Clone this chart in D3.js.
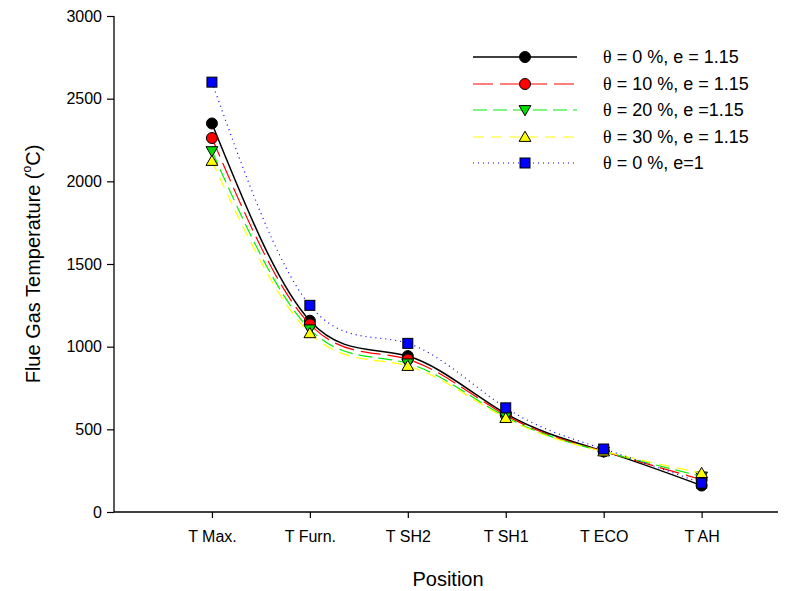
<!DOCTYPE html>
<html>
<head>
<meta charset="utf-8">
<script src="https://cdn.jsdelivr.net/npm/d3@7"></script>
<style>
  body { margin: 0; background: #fff; }
  text { font-family: Arial, "Liberation Sans", sans-serif; }
</style>
</head>
<body>
<svg id="chart" width="788" height="591"></svg>
<script>
// DATA
var positions = ["T Max.", "T Furn.", "T SH2", "T SH1", "T ECO", "T AH"];
var yTicks = [0, 500, 1000, 1500, 2000, 2500, 3000];

var theta0_e115  = [2350, 1157, 943, 595, 368, 160];
var theta10_e115 = [2262, 1135, 923, 585, 366, 195];
var theta20_e115 = [2183, 1105, 899, 575, 365, 215];
var theta30_e115 = [2123, 1081, 883, 568, 366, 235];
var theta0_e1    = [2600, 1250, 1020, 630, 381, 175];

// legend labels, split after the theta sign
var seriesNames = [" = 0 %, e = 1.15", " = 10 %, e = 1.15", " = 20 %, e =1.15", " = 30 %, e = 1.15", " = 0 %, e=1"];

// STYLES
var series = [
  {name: seriesNames[0], values: theta0_e115,  stroke: "#000000", fill: "#000000", dash: null,    width: 1.5, symbol: "circle"},
  {name: seriesNames[1], values: theta10_e115, stroke: "#ff0000", fill: "#ff0000", dash: "20,7",  width: 1.2, symbol: "circle"},
  {name: seriesNames[2], values: theta20_e115, stroke: "#00ee00", fill: "#00dd00", dash: "14,6",  width: 1.2, symbol: "down"},
  {name: seriesNames[3], values: theta30_e115, stroke: "#ffff00", fill: "#ffff00", dash: "11,7",  width: 1.2, symbol: "up"},
  {name: seriesNames[4], values: theta0_e1,    stroke: "#0000ff", fill: "#0000ff", dash: "1,4",   width: 1.2, symbol: "square"}
];

// SIZES (plot frame)
var plotLeft = 114, plotRight = 778, plotTop = 16, plotBottom = 512;

var svg = d3.select("#chart");

var x = d3.scaleLinear().domain([0, 6.78]).range([plotLeft, plotRight]);
var y = d3.scaleLinear().domain([0, 3000]).range([plotBottom, plotTop]);

// axes
var yAxis = d3.axisLeft(y).tickValues(yTicks).tickSize(7).tickPadding(5).tickFormat(d3.format("d"));
var gy = svg.append("g").attr("transform", "translate(" + plotLeft + ",0)").call(yAxis);
gy.select(".domain").attr("d", "M0," + plotTop + "V" + plotBottom);

var xAxis = d3.axisBottom(x).tickValues([1, 2, 3, 4, 5, 6]).tickSize(6).tickPadding(13)
  .tickFormat(function(d){ return positions[d - 1]; });
var gx = svg.append("g").attr("transform", "translate(0," + plotBottom + ")").call(xAxis);
gx.select(".domain").attr("d", "M" + plotLeft + ",0H" + plotRight);

[gx, gy].forEach(function(g){
  g.selectAll(".domain").attr("stroke", "#000").attr("stroke-width", 1.3);
  g.selectAll(".tick line").attr("stroke", "#000").attr("stroke-width", 1.2);
  g.selectAll(".tick text").attr("fill", "#000").attr("font-size", 16)
    .attr("font-family", "Arial, 'Liberation Sans', sans-serif");
});

// axis titles
svg.append("text")
  .attr("x", (plotLeft + plotRight) / 2 + 2)
  .attr("y", 586)
  .attr("text-anchor", "middle")
  .attr("font-size", 20)
  .text("Position");

var yt = svg.append("text")
  .attr("transform", "translate(40," + ((plotTop + plotBottom) / 2) + ") rotate(-90)")
  .attr("text-anchor", "middle")
  .attr("font-size", 20);
yt.append("tspan").text("Flue Gas Temperature (");
yt.append("tspan").attr("font-size", 12).attr("dy", -9).text("o");
yt.append("tspan").attr("dy", 9).text("C)");

// markers
function drawSymbol(g, s, cx, cy) {
  if (s.symbol == "circle") {
    g.append("circle").attr("cx", cx).attr("cy", cy).attr("r", 5.5)
      .attr("fill", s.fill).attr("stroke", "#000").attr("stroke-width", 1);
  } else if (s.symbol == "square") {
    g.append("rect").attr("x", cx - 5).attr("y", cy - 5).attr("width", 10).attr("height", 10)
      .attr("fill", s.fill).attr("stroke", "#000").attr("stroke-width", 1);
  } else {
    var sym = d3.symbol().type(d3.symbolTriangle).size(60);
    g.append("path").attr("d", sym())
      .attr("transform", "translate(" + cx + "," + (s.symbol == "down" ? cy - 1 : cy + 1) + ")" + (s.symbol == "down" ? " rotate(180)" : ""))
      .attr("fill", s.fill).attr("stroke", "#000").attr("stroke-width", 1);
  }
}

var line = d3.line()
  .x(function(d, i){ return x(i + 1); })
  .y(function(d){ return y(d); })
  .curve(d3.curveNatural);

series.forEach(function(s){
  var g = svg.append("g");
  g.append("path")
    .attr("d", line(s.values))
    .attr("fill", "none")
    .attr("stroke", s.stroke)
    .attr("stroke-width", s.width)
    .attr("stroke-dasharray", s.dash);
  s.values.forEach(function(v, i){
    drawSymbol(g, s, x(i + 1), y(v));
  });
});

// legend
var legend = svg.append("g");
series.forEach(function(s, i){
  var ly = Math.round(57 + i * 26.5);
  legend.append("line")
    .attr("x1", 473).attr("x2", 577).attr("y1", ly).attr("y2", ly)
    .attr("stroke", s.stroke).attr("stroke-width", s.width)
    .attr("stroke-dasharray", s.dash);
  drawSymbol(legend, s, 525, ly);
  var t = legend.append("text")
    .attr("x", 603).attr("y", ly + 6)
    .attr("font-size", 18);
  t.append("tspan").attr("font-family", "'Liberation Serif', 'DejaVu Serif', serif").text("\u03b8");
  t.append("tspan").text(s.name);
});
</script>
</body>
</html>
